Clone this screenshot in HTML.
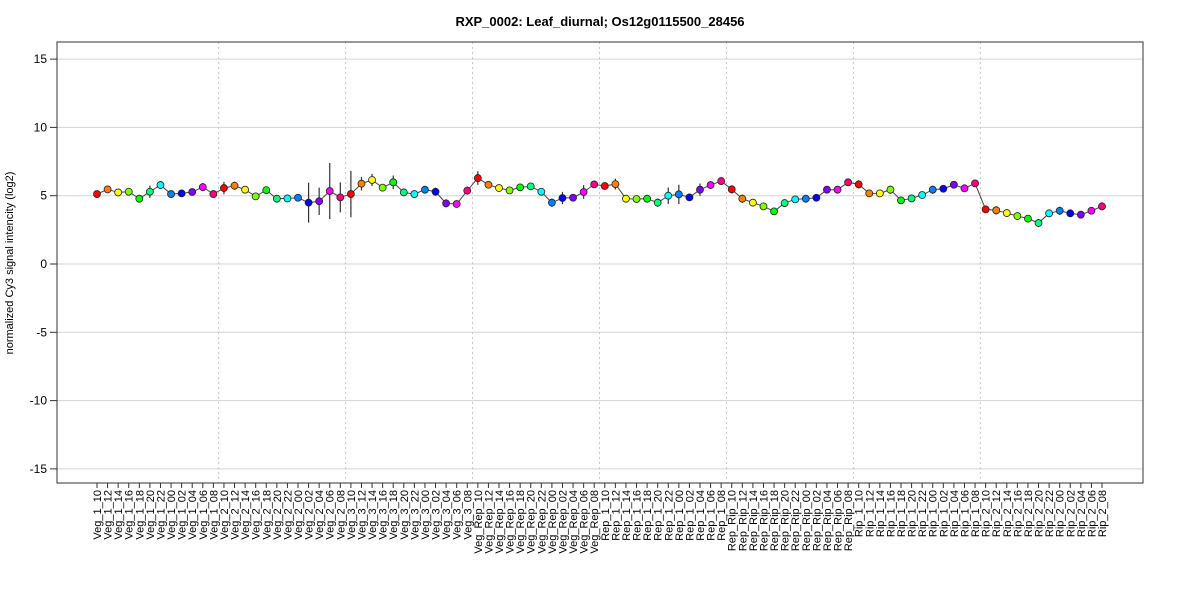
<!DOCTYPE html>
<html><head><meta charset="utf-8"><style>
body{margin:0;background:#fff;}
svg{display:block;font-family:"Liberation Sans",Arial,sans-serif;}
</style></head><body>
<svg id="chart" width="1200" height="600" viewBox="0 0 1200 600">
<text x="600" y="26" text-anchor="middle" font-size="13" font-weight="bold">RXP_0002: Leaf_diurnal; Os12g0115500_28456</text>
<text transform="translate(13,263) rotate(-90)" text-anchor="middle" font-size="11">normalized Cy3 signal intencity (log2)</text>
<g id="grid"></g>
<g id="axes"></g>
<g id="series"></g>
<rect x="57" y="42" width="1086" height="441" fill="none" stroke="#333" stroke-width="1"/>
</svg>
<script>
const groups = ["Veg_1","Veg_2","Veg_3","Veg_Rep","Rep_1","Rep_Rip","Rip_1","Rip_2"];
const times = ["10","12","14","16","18","20","22","00","02","04","06","08"];
const values = [
5.12,5.46,5.24,5.29,4.78,5.29,5.78,5.12,5.17,5.27,5.63,5.12,
5.56,5.73,5.44,4.95,5.41,4.78,4.80,4.85,4.49,4.59,5.34,4.88,
5.12,5.88,6.15,5.59,5.98,5.24,5.12,5.44,5.29,4.44,4.39,5.37,
6.29,5.80,5.56,5.39,5.61,5.68,5.29,4.49,4.83,4.85,5.27,5.83,
5.71,5.85,4.78,4.76,4.78,4.49,5.00,5.10,4.88,5.44,5.78,6.07,
5.46,4.78,4.49,4.22,3.85,4.46,4.73,4.78,4.85,5.44,5.44,5.98,
5.83,5.17,5.17,5.44,4.66,4.80,5.05,5.44,5.51,5.80,5.54,5.90,
4.00,3.93,3.73,3.51,3.32,3.00,3.71,3.90,3.71,3.61,3.90,4.22];
const errors = [
0.25,0.15,0.15,0.25,0.2,0.45,0.3,0.25,0.15,0.15,0.3,0.15,
0.45,0.3,0.25,0.25,0.15,0.25,0.15,0.25,1.46,1.0,2.05,1.1,
1.7,0.5,0.45,0.15,0.5,0.15,0.15,0.15,0.3,0.3,0.15,0.3,
0.5,0.15,0.15,0.15,0.15,0.15,0.15,0.3,0.45,0.15,0.5,0.15,
0.15,0.4,0.15,0.15,0.15,0.3,0.6,0.7,0.15,0.45,0.15,0.15,
0.3,0.3,0.15,0.15,0.15,0.15,0.15,0.15,0.15,0.15,0.15,0.15,
0.3,0.15,0.15,0.3,0.15,0.15,0.15,0.3,0.15,0.15,0.15,0.15,
0.15,0.3,0.15,0.15,0.15,0.3,0.15,0.3,0.15,0.15,0.15,0.3];
const yTicks = [-15,-10,-5,0,5,10,15];

const NS="http://www.w3.org/2000/svg";
const labels=[];groups.forEach(g=>times.forEach(t=>labels.push(g+"_"+t)));
const x0=97, x1=1102;
function xs(i){return x0+i*(x1-x0)/(labels.length-1);}
function ys(v){return 264-v*13.66;}
function mk(tag,attrs,parent){const e=document.createElementNS(NS,tag);for(const k in attrs)e.setAttribute(k,attrs[k]);parent.appendChild(e);return e;}
const grid=document.getElementById('grid'),axes=document.getElementById('axes'),ser=document.getElementById('series');
yTicks.forEach(v=>{
  const l=mk('line',{x1:57,x2:1143,y1:ys(v),y2:ys(v),stroke:'#d3d3d3','stroke-width':1},grid);
  
  
  const t=mk('line',{x1:50,x2:57,y1:ys(v),y2:ys(v),stroke:'#333'},axes);
  
  
  const tx=mk('text',{x:47,y:ys(v)+4,'text-anchor':'end','font-size':12},axes);
  tx.textContent=v;
  
  
});
for(let g=1;g<groups.length;g++){
  const xx=(xs(g*12-1)+xs(g*12))/2;
  const l=mk('line',{x1:xx,x2:xx,y1:42,y2:483,stroke:'#c8c8c8','stroke-dasharray':'2,3'},grid);
  
  
}
labels.forEach((lab,i)=>{
  const t=mk('line',{x1:xs(i),x2:xs(i),y1:483,y2:488,stroke:'#333'},axes);
  
  
  const tx=mk('text',{transform:`translate(${xs(i)+4},490) rotate(-90)`,'text-anchor':'end','font-size':11},axes);
  tx.textContent=lab;
  
  
});
const pl=mk('polyline',{points:values.map((v,i)=>xs(i)+','+ys(v)).join(' '),fill:'none',stroke:'#444','stroke-width':1},ser);


values.forEach((v,i)=>{
  const e=mk('line',{x1:xs(i),x2:xs(i),y1:ys(v-errors[i]),y2:ys(v+errors[i]),stroke:'#333','stroke-width':1.2},ser);
  
  
});
values.forEach((v,i)=>{
  const c=mk('circle',{cx:xs(i),cy:ys(v),r:3.5,fill:`hsl(${(i%12)*30},100%,50%)`,stroke:'#222','stroke-width':0.8},ser);
  
  
});
</script>
</body></html>
